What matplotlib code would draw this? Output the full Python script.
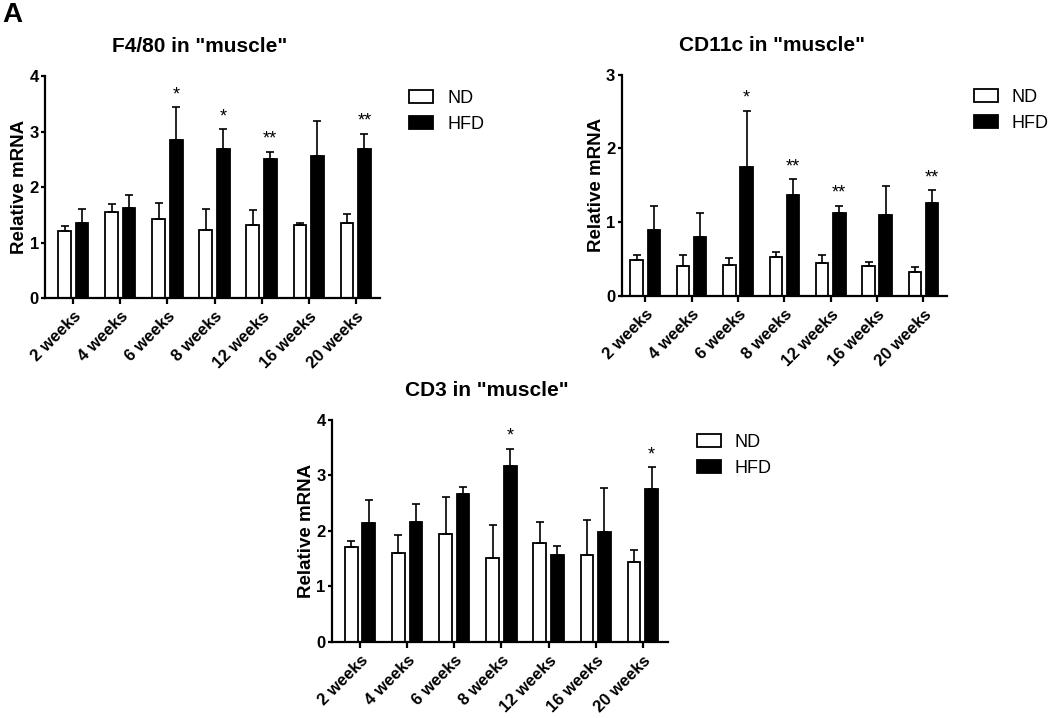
import numpy as np
import matplotlib
matplotlib.use("Agg")
from matplotlib import pyplot as plt
import matplotlib.patches as mpatches

plt.rcParams['font.family'] = ['Liberation Sans', 'DejaVu Sans']

weeks = ['2 weeks', '4 weeks', '6 weeks', '8 weeks', '12 weeks', '16 weeks', '20 weeks']

# F4/80
f480_nd = [1.21, 1.55, 1.42, 1.23, 1.31, 1.31, 1.35]
f480_nd_err = [0.08, 0.15, 0.29, 0.38, 0.28, 0.04, 0.17]
f480_hfd = [1.36, 1.63, 2.85, 2.68, 2.50, 2.56, 2.68]
f480_hfd_err = [0.24, 0.23, 0.59, 0.36, 0.13, 0.63, 0.28]
f480_stars = ['', '', '*', '*', '**', '', '**']

# CD11c
cd11c_nd = [0.49, 0.41, 0.42, 0.52, 0.45, 0.41, 0.32]
cd11c_nd_err = [0.06, 0.15, 0.09, 0.08, 0.10, 0.05, 0.07]
cd11c_hfd = [0.89, 0.80, 1.75, 1.37, 1.12, 1.10, 1.26]
cd11c_hfd_err = [0.33, 0.33, 0.76, 0.21, 0.10, 0.39, 0.17]
cd11c_stars = ['', '', '*', '**', '**', '', '**']

# CD3
cd3_nd = [1.71, 1.61, 1.94, 1.51, 1.78, 1.57, 1.44]
cd3_nd_err = [0.10, 0.32, 0.67, 0.60, 0.39, 0.62, 0.21]
cd3_hfd = [2.14, 2.16, 2.66, 3.17, 1.56, 1.99, 2.75]
cd3_hfd_err = [0.41, 0.32, 0.14, 0.31, 0.16, 0.79, 0.40]
cd3_stars = ['', '', '', '*', '', '', '*']


def draw_panel(ax, title, nd, nd_err, hfd, hfd_err, stars, ymax, xlim, leg_x):
    x = np.arange(len(weeks))
    w = 0.27
    off = 0.185
    err_kw = dict(elinewidth=1.2, capthick=1.2, ecolor='black')
    ax.bar(x - off, nd, w, color='white', edgecolor='black', linewidth=1.3,
           yerr=[np.zeros(len(nd)), nd_err], capsize=3, error_kw=err_kw, zorder=2)
    ax.bar(x + off, hfd, w, color='black', edgecolor='black', linewidth=1.3,
           yerr=[np.zeros(len(hfd)), hfd_err], capsize=3, error_kw=err_kw, zorder=2)
    for i, s in enumerate(stars):
        if s:
            ax.annotate(s, (x[i] + off, hfd[i] + hfd_err[i]), xytext=(0, 3),
                        textcoords='offset points', ha='center', va='bottom',
                        fontsize=13)
    ax.set_ylim(0, ymax)
    ax.set_xlim(*xlim)
    ax.set_yticks(range(0, ymax + 1))
    ax.set_xticks(x)
    ax.set_xticklabels(weeks, rotation=45, ha='right', rotation_mode='anchor',
                       fontweight='bold', fontsize=12)
    for lab in ax.get_yticklabels():
        lab.set_fontweight('bold')
        lab.set_fontsize(12)
    ax.spines['top'].set_visible(False)
    ax.spines['right'].set_visible(False)
    ax.spines['left'].set_linewidth(1.6)
    ax.spines['bottom'].set_linewidth(1.6)
    ax.tick_params(axis='y', width=1.6, length=3, pad=1.5)
    ax.tick_params(axis='x', width=1.6, length=4, pad=4)
    ax.set_ylabel('Relative mRNA', fontweight='bold', fontsize=13.5, labelpad=1)
    ax.set_title(title, fontweight='bold', fontsize=15, pad=17, x=0.462)
    handles = [mpatches.Patch(facecolor='white', edgecolor='black', linewidth=1.3, label='ND'),
               mpatches.Patch(facecolor='black', edgecolor='black', linewidth=1.3, label='HFD')]
    ax.legend(handles=handles, loc='upper left', bbox_to_anchor=(leg_x, 0.97),
              frameon=False, fontsize=13, borderaxespad=0, handlelength=1.35,
              handleheight=0.75, handletextpad=0.75, labelspacing=0.5)


fig = plt.figure(figsize=(10.5, 7.18), dpi=100)
ax1 = fig.add_axes([0.043, 0.585, 0.319, 0.309])
ax2 = fig.add_axes([0.592, 0.588, 0.310, 0.308])
ax3 = fig.add_axes([0.316, 0.106, 0.320, 0.309])

draw_panel(ax1, 'F4/80 in "muscle"', f480_nd, f480_nd_err, f480_hfd, f480_hfd_err,
           f480_stars, 4, (-0.6, 6.52), 1.065)
draw_panel(ax2, 'CD11c in "muscle"', cd11c_nd, cd11c_nd_err, cd11c_hfd, cd11c_hfd_err,
           cd11c_stars, 3, (-0.51, 6.51), 1.06)
draw_panel(ax3, 'CD3 in "muscle"', cd3_nd, cd3_nd_err, cd3_hfd, cd3_hfd_err,
           cd3_stars, 4, (-0.6, 6.53), 1.065)

fig.text(0.002, 0.997, 'A', fontsize=20, fontweight='bold', ha='left', va='top')

fig.savefig('out.png', dpi=100)
